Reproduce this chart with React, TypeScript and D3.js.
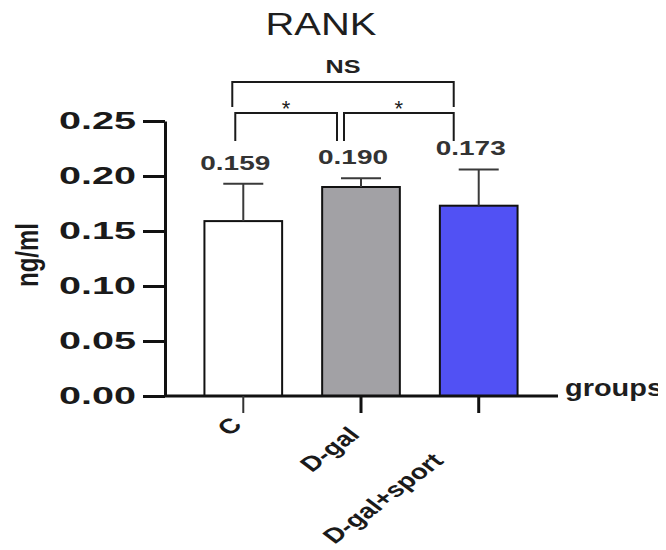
import React, { useEffect, useRef } from "react";
import * as d3 from "d3";

// Group names, means, SD and fills
const groups = ["C", "D-gal", "D-gal+sport"];
const means = [0.159, 0.19, 0.173];
const errors = [0.034, 0.008, 0.033];
const fills = ["#ffffff", "#a2a1a5", "#5151f4"];
const yTicks = [0, 0.05, 0.1, 0.15, 0.2, 0.25];

// Significance brackets between groups
const comparisons = [
  { from: 0, to: 1, label: "*", level: 0 },
  { from: 1, to: 2, label: "*", level: 0 },
  { from: 0, to: 2, label: "NS", level: 1 },
];

const W = 666;
const H = 550;
const FONT = "'Liberation Sans', Arial, Helvetica, sans-serif";

export default function App() {
  const ref = useRef<SVGSVGElement | null>(null);

  useEffect(() => {
    const svg = d3.select(ref.current);
    svg.selectAll("*").remove();

    const y = d3.scaleLinear().domain([0, 0.25]).range([396, 121]);
    const x = d3
      .scaleBand()
      .domain(groups)
      .range([165, 557])
      .paddingInner(0.34)
      .paddingOuter(0.335);
    const cx = (i: number) => (x(groups[i]) as number) + x.bandwidth() / 2;

    // Title
    svg
      .append("text")
      .attr("x", 321)
      .attr("y", 35)
      .attr("text-anchor", "middle")
      .attr("font-family", FONT)
      .attr("font-size", 32)
      .attr("fill", "#1e1e1e")
      .attr("textLength", 111)
      .attr("lengthAdjust", "spacingAndGlyphs")
      .text("RANK");

    // Bars
    svg
      .append("g")
      .selectAll("rect")
      .data(means)
      .join("rect")
      .attr("x", (_, i) => x(groups[i]) as number)
      .attr("y", (d) => y(d))
      .attr("width", x.bandwidth())
      .attr("height", (d) => y(0) - y(d))
      .attr("fill", (_, i) => fills[i])
      .attr("stroke", "#111")
      .attr("stroke-width", 2);

    // Error bars (upper only)
    const eg = svg.append("g").attr("stroke", "#3a3a3a").attr("stroke-width", 2);
    means.forEach((m, i) => {
      const top = y(m + errors[i]);
      eg.append("line").attr("x1", cx(i)).attr("x2", cx(i)).attr("y1", y(m)).attr("y2", top);
      eg.append("line").attr("x1", cx(i) - 20).attr("x2", cx(i) + 20).attr("y1", top).attr("y2", top);
    });

    // Value labels
    svg
      .append("g")
      .selectAll("text")
      .data(means)
      .join("text")
      .attr("x", (_, i) => cx(i) - 8)
      .attr("y", (d, i) => y(d + errors[i]) - 14)
      .attr("text-anchor", "middle")
      .attr("font-family", FONT)
      .attr("font-size", 21)
      .attr("font-weight", "bold")
      .attr("fill", "#333")
      .attr("textLength", 70)
      .attr("lengthAdjust", "spacingAndGlyphs")
      .text((d) => d.toFixed(3));

    // Y axis
    const yAxis = svg
      .append("g")
      .attr("transform", "translate(165,0)")
      .call(
        d3
          .axisLeft(y)
          .tickValues(yTicks)
          .tickSize(22)
          .tickSizeOuter(0)
          .tickPadding(7)
          .tickFormat(d3.format(".2f"))
      );
    yAxis.select(".domain").attr("stroke", "#111").attr("stroke-width", 3);
    yAxis.selectAll(".tick line").attr("stroke", "#111").attr("stroke-width", 3);
    yAxis
      .selectAll(".tick text")
      .attr("font-family", FONT)
      .attr("font-size", 24)
      .attr("font-weight", "bold")
      .attr("fill", "#1a1a1a")
      .attr("textLength", 77)
      .attr("lengthAdjust", "spacingAndGlyphs");

    // X axis
    const xAxis = svg
      .append("g")
      .attr("transform", "translate(0,396)")
      .call(d3.axisBottom(x).tickSize(17).tickSizeOuter(0).tickFormat(() => ""));
    xAxis
      .select(".domain")
      .attr("d", "M165,0H558")
      .attr("stroke", "#111")
      .attr("stroke-width", 3);
    xAxis
      .selectAll(".tick line")
      .attr("stroke", (_, i) => (i === 0 ? "#333" : "#111"))
      .attr("stroke-width", (_, i) => (i === 0 ? 2 : 3));

    // Rotated group labels
    const labelPos = [
      [0, 30],
      [0, 40],
      [-34, 66],
    ];
    svg
      .append("g")
      .selectAll("text")
      .data(groups)
      .join("text")
      .attr("transform", (_, i) => `translate(${cx(i) + labelPos[i][0]},${396 + labelPos[i][1]}) scale(1.33,1) rotate(-45)`)
      .attr("text-anchor", "end")
      .attr("font-family", FONT)
      .attr("font-size", 21)
      .attr("font-weight", "bold")
      .attr("fill", "#1a1a1a")
      .text((d) => d);

    // Axis titles
    svg
      .append("text")
      .attr("transform", "translate(38,255) scale(1.3,1) rotate(-90)")
      .attr("text-anchor", "middle")
      .attr("font-family", FONT)
      .attr("font-size", 24)
      .attr("font-weight", "bold")
      .attr("fill", "#1a1a1a")
      .text("ng/ml");

    svg
      .append("text")
      .attr("x", 565)
      .attr("y", 396)
      .attr("font-family", FONT)
      .attr("font-size", 24)
      .attr("font-weight", "bold")
      .attr("fill", "#1e1e1e")
      .attr("textLength", 98)
      .attr("lengthAdjust", "spacingAndGlyphs")
      .text("groups");

    // Significance brackets
    const ends: Record<string, [number, number]> = {
      "0-1": [-8, -24],
      "1-2": [-17, -25],
      "0-2": [-11, -25],
    };
    const bg = svg.append("g");
    comparisons.forEach((c) => {
      const [da, db] = ends[`${c.from}-${c.to}`];
      const x1 = cx(c.from) + da;
      const x2 = cx(c.to) + db;
      const top = c.level === 0 ? 113 : 82;
      const leg = c.level === 0 ? 28 : 25;
      bg.append("path")
        .attr("d", `M${x1},${top + leg}V${top}H${x2}V${top + leg}`)
        .attr("fill", "none")
        .attr("stroke", "#1a1a1a")
        .attr("stroke-width", 2);
      const t = bg
        .append("text")
        .attr("x", (x1 + x2) / 2)
        .attr("text-anchor", "middle")
        .attr("font-family", FONT)
        .attr("fill", "#222");
      if (c.label === "NS") {
        t.attr("y", top - 9)
          .attr("font-size", 19)
          .attr("font-weight", "bold")
          .attr("textLength", 35)
          .attr("lengthAdjust", "spacingAndGlyphs")
          .text(c.label);
      } else {
        t.attr("y", top + 3).attr("font-size", 22).text(c.label);
      }
    });
  }, []);

  return <svg ref={ref} width={W} height={H} style={{ display: "block", margin: "-8px 0 0 -8px", background: "#fff" }} />;
}
